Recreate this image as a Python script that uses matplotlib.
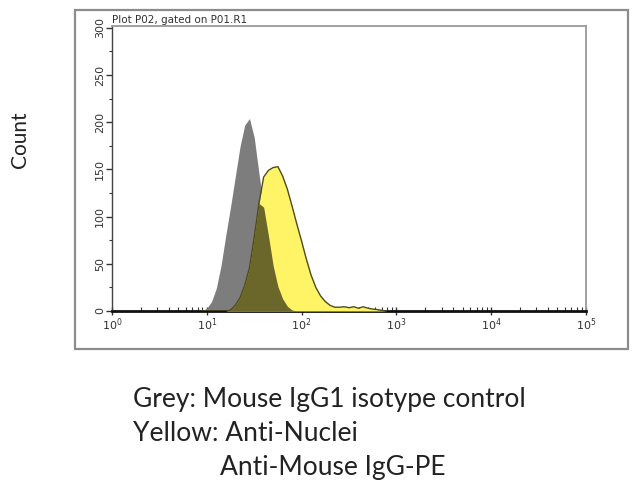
import matplotlib.pyplot as plt
import numpy as np
from matplotlib.patches import Rectangle
from matplotlib.ticker import LogLocator, MultipleLocator, FixedLocator

# shared grid, log10 of fluorescence
log_x = [0.95, 1.00, 1.05, 1.10, 1.15, 1.20, 1.25, 1.30, 1.35, 1.40,
         1.45, 1.50, 1.55, 1.60, 1.65, 1.70, 1.75, 1.80, 1.85, 1.90,
         1.95, 2.00, 2.05, 2.10, 2.15, 2.20, 2.25, 2.30, 2.35, 2.40,
         2.45, 2.50, 2.55, 2.60, 2.65, 2.70, 2.75, 2.80, 2.85, 2.90]

grey_counts = [0, 3, 10, 24, 48, 80, 110, 142, 174, 197,
               204, 184, 146, 110, 80, 48, 26, 13, 5, 1,
               0, 0, 0, 0, 0, 0, 0, 0, 0, 0,
               0, 0, 0, 0, 0, 0, 0, 0, 0, 0]

yellow_counts = [0, 0, 0, 0, 0, 0, 1, 6, 14, 27,
                 46, 78, 114, 142, 149, 152, 153, 143, 129, 111,
                 92, 74, 55, 38, 25, 16, 10, 6, 4, 4,
                 4.5, 3.5, 4.5, 3, 4.5, 3, 2, 1.5, 0.5, 0]

title = "Plot P02, gated on P01.R1"
caption = ["Grey: Mouse IgG1 isotype control",
           "Yellow: Anti-Nuclei",
           "Anti-Mouse IgG-PE"]

x = 10 ** np.array(log_x)
g = np.array(grey_counts, dtype=float)
yel = np.array(yellow_counts, dtype=float)

fig = plt.figure(figsize=(6.4, 4.94), dpi=100)

# outer grey frame
fig.patches.append(Rectangle((75/640, 1-349/494), (628-75)/640, (349-10)/494,
                             transform=fig.transFigure, fill=False,
                             edgecolor='#8c8c8c', linewidth=1.6))

ax = fig.add_axes([112/640, 1-311/494, (586-112)/640, (311-26)/494])

ax.fill_between(x, 0, g, color='#7d7d7d', linewidth=0, zorder=2)
ax.fill_between(x, 0, yel, color='#fff466', linewidth=0, zorder=3)
ax.fill_between(x, 0, np.minimum(g, yel), color='#6b672b', linewidth=0, zorder=4)
ax.plot(x, yel, color='#4f4c1c', linewidth=1.0, zorder=5)

ax.set_xscale('log')
ax.set_xlim(1, 1e5)
ax.set_ylim(0, 302)
ax.xaxis.set_major_locator(LogLocator(base=10, numticks=10))
ax.xaxis.set_minor_locator(LogLocator(base=10, subs=np.arange(2, 10), numticks=10))
ax.yaxis.set_major_locator(FixedLocator([0, 50, 100, 150, 200, 250, 300]))
ax.yaxis.set_minor_locator(MultipleLocator(25))

ax.tick_params(axis='x', which='major', direction='inout', length=6, width=1,
               labelsize=8, pad=1, colors='#333333')
ax.tick_params(axis='x', which='minor', direction='in', length=3, width=0.8,
               colors='#333333')
ax.tick_params(axis='y', which='major', direction='out', length=4, width=1,
               labelsize=8, pad=1, colors='#333333', labelrotation=90)
ax.tick_params(axis='y', which='minor', direction='out', length=2, width=0.8,
               colors='#333333')
for lab in ax.get_yticklabels():
    lab.set_va('center')

ax.spines['bottom'].set_linewidth(2)
ax.spines['bottom'].set_color('#111111')
ax.spines['left'].set_linewidth(1)
ax.spines['left'].set_color('#444444')
for s in ['top', 'right']:
    ax.spines[s].set_color('#9a9a9a')
    ax.spines[s].set_linewidth(1.3)

ax.text(0.0, 1.004, title, transform=ax.transAxes, ha='left', va='bottom',
        fontsize=7.5, color='#333333')

fig.text(20/640, 1-140/494, "Count", rotation=90, ha='center', va='center',
         fontsize=15, family='Lato', color='#222222')

fig.text(133/640, 1-399/494, caption[0], ha='left', va='center',
         fontsize=19, family='Lato', color='#222222')
fig.text(133/640, 1-433/494, caption[1], ha='left', va='center',
         fontsize=19, family='Lato', color='#222222')
fig.text(220/640, 1-468/494, caption[2], ha='left', va='center',
         fontsize=19, family='Lato', color='#222222')

fig.savefig('out.png', dpi=100)
